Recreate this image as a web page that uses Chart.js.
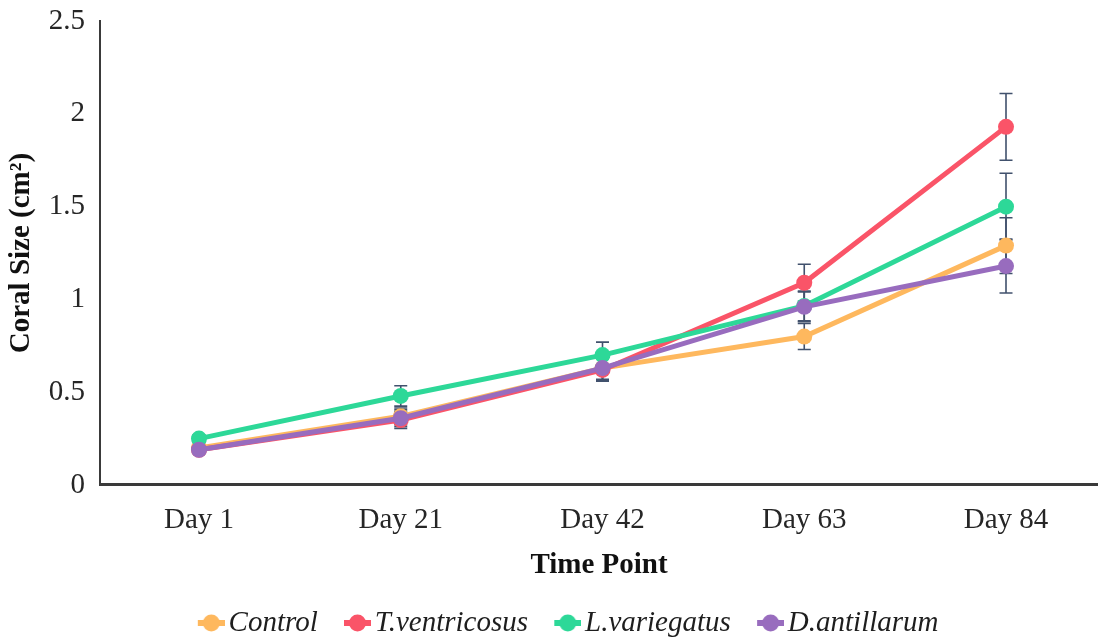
<!DOCTYPE html>
<html>
<head>
<meta charset="utf-8">
<script src="https://cdn.jsdelivr.net/npm/chart.js@4"></script>
<style>
  html, body { margin: 0; padding: 0; background: #ffffff; overflow: hidden; }
  #wrap { width: 1098px; height: 638px; position: relative; }
</style>
</head>
<body>
<div id="wrap"><canvas id="chart"></canvas></div>
<script>
// Time points and axis labels
const timePoints = ['Day 1', 'Day 21', 'Day 42', 'Day 63', 'Day 84'];
const yTickLabels = ['0', '0.5', '1', '1.5', '2', '2.5'];
const seriesNames = ['Control', 'T.ventricosus', 'L.variegatus', 'D.antillarum'];

// Mean coral size (cm²) per treatment
const controlMean = [0.20, 0.37, 0.63, 0.80, 1.29];
const ventricosusMean = [0.19, 0.35, 0.62, 1.09, 1.93];
const variegatusMean = [0.25, 0.48, 0.70, 0.965, 1.50];
const antillarumMean = [0.19, 0.36, 0.63, 0.96, 1.18];

// Error (± cm²) per treatment
const controlErr = [0.02, 0.045, 0.06, 0.07, 0.15];
const ventricosusErr = [0.02, 0.045, 0.06, 0.10, 0.18];
const variegatusErr = [0.02, 0.055, 0.07, 0.08, 0.18];
const antillarumErr = [0.02, 0.045, 0.065, 0.08, 0.145];

const seriesColors = ['#feb85e', '#fa5468', '#2dd898', '#986cbe'];
const serif = "'Liberation Serif', 'Times New Roman', serif";
const fontSize = 29;

// Legend swatch: short thick line with a round marker, sitting at the right of its canvas
function legendSwatch(color) {
  const c = document.createElement('canvas');
  c.width = 64; c.height = 18;
  const g = c.getContext('2d');
  g.strokeStyle = color;
  g.lineWidth = 6;
  g.beginPath(); g.moveTo(37, 9); g.lineTo(64, 9); g.stroke();
  g.fillStyle = color;
  g.beginPath(); g.arc(50.5, 9, 8.5, 0, Math.PI * 2); g.fill();
  return c;
}
const swatches = seriesColors.map(legendSwatch);

// Vertical error bars, drawn beneath the lines and markers
const errorBars = {
  id: 'errorBars',
  beforeDatasetsDraw(chart) {
    const { ctx, scales: { x, y } } = chart;
    ctx.save();
    ctx.strokeStyle = '#41516d';
    ctx.lineWidth = 1.6;
    chart.data.datasets.forEach((ds) => {
      ds.errors.forEach((e, i) => {
        const pt = ds.data[i];
        const px = x.getPixelForValue(pt.x);
        const top = y.getPixelForValue(pt.y + e);
        const bot = y.getPixelForValue(pt.y - e);
        ctx.beginPath();
        ctx.moveTo(px, top); ctx.lineTo(px, bot);
        ctx.moveTo(px - 6.5, top); ctx.lineTo(px + 6.5, top);
        ctx.moveTo(px - 6.5, bot); ctx.lineTo(px + 6.5, bot);
        ctx.stroke();
      });
    });
    ctx.restore();
  }
};

const means = [controlMean, ventricosusMean, variegatusMean, antillarumMean];
const errs = [controlErr, ventricosusErr, variegatusErr, antillarumErr];

const datasets = seriesNames.map((name, i) => ({
  label: name,
  data: means[i].map((v, k) => ({ x: k, y: v })),
  errors: errs[i],
  borderColor: seriesColors[i],
  backgroundColor: seriesColors[i],
  pointBackgroundColor: seriesColors[i],
  pointBorderColor: seriesColors[i],
  borderWidth: 5,
  pointRadius: 8,
  pointBorderWidth: 0,
  tension: 0,
  order: seriesNames.length - 1 - i
}));

new Chart(document.getElementById('chart'), {
  type: 'line',
  data: { datasets },
  options: {
    responsive: true,
    maintainAspectRatio: false,
    animation: false,
    devicePixelRatio: 1,
    layout: { autoPadding: false, padding: { top: 0, left: 12, right: 0, bottom: -9.5 } },
    plugins: {
      tooltip: { enabled: false },
      legend: {
        position: 'bottom',
        labels: {
          usePointStyle: true,
          pointStyleWidth: 42.5,
          padding: 0,
          color: '#1e1e1e',
          font: { family: serif, size: fontSize, style: 'italic' },
          generateLabels(chart) {
            return chart.data.datasets.map((ds, i) => ({
              text: ds.label,
              pointStyle: swatches[i],
              fillStyle: ds.borderColor,
              strokeStyle: ds.borderColor,
              lineWidth: 0,
              hidden: false,
              datasetIndex: i,
              fontColor: '#1e1e1e'
            }));
          }
        }
      }
    },
    scales: {
      x: {
        type: 'linear',
        min: -0.4907,
        max: 4.456,
        grid: { display: false, drawTicks: false },
        border: { display: true, color: '#3a3a3a', width: 3 },
        ticks: {
          stepSize: 1, includeBounds: false, autoSkip: false, maxRotation: 0,
          padding: 18, color: '#262626',
          font: { family: serif, size: fontSize },
          callback: (v) => (Number.isInteger(v) ? timePoints[v] : '')
        },
        title: {
          display: true, text: 'Time Point', color: '#111',
          font: { family: serif, size: fontSize, weight: 'bold' },
          padding: { top: 0, bottom: 26 }
        },
        afterFit(scale) { scale.height = 123.5; }
      },
      y: {
        min: 0, max: 2.5,
        grid: { display: false, drawTicks: false },
        border: { display: true, color: '#3a3a3a', width: 2 },
        ticks: {
          stepSize: 0.5, padding: 15, color: '#262626',
          font: { family: serif, size: fontSize, lineHeight: 0.42 },
          callback: (v) => yTickLabels[Math.round(v / 0.5)]
        },
        title: {
          display: true, text: 'Coral Size (cm²)', color: '#111',
          font: { family: serif, size: fontSize, weight: 'bold' },
          padding: { top: -7.4, bottom: 0 }
        },
        afterFit(scale) { scale.width = 88; }
      }
    }
  },
  plugins: [errorBars]
});
</script>
</body>
</html>
